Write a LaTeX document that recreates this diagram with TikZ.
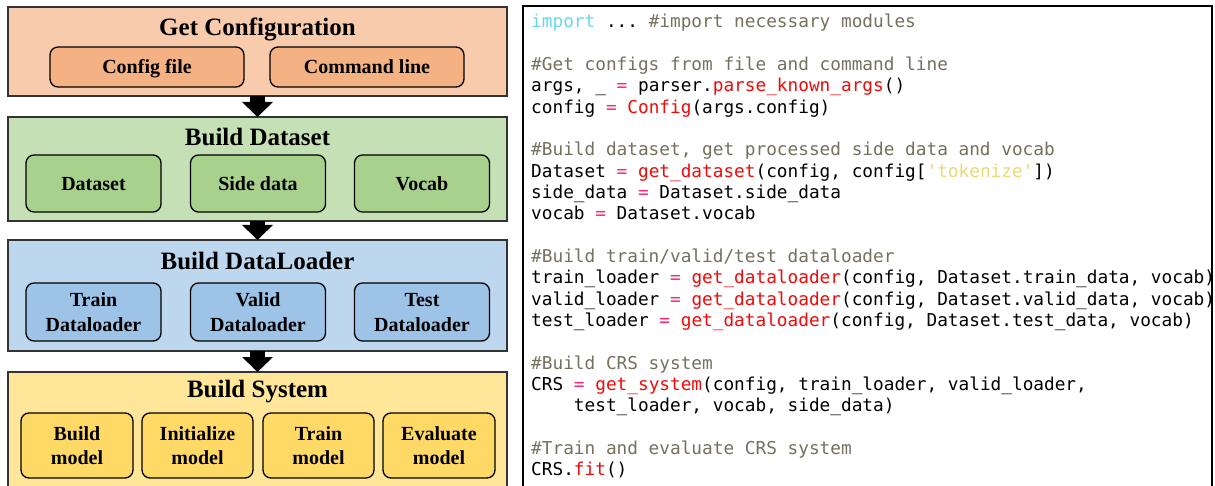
\documentclass[tikz,border=0pt]{standalone}
\usepackage{fontspec}
\setmainfont{Liberation Serif}
\setmonofont{DejaVu Sans Mono}
\usetikzlibrary{arrows.meta}
\definecolor{orOut}{HTML}{F8CBAD}
\definecolor{orIn}{HTML}{F4B183}
\definecolor{grOut}{HTML}{C5E0B4}
\definecolor{grIn}{HTML}{A9D18E}
\definecolor{blOut}{HTML}{BDD7EE}
\definecolor{blIn}{HTML}{9DC3E6}
\definecolor{yeOut}{HTML}{FFE699}
\definecolor{yeIn}{HTML}{FFD966}
\definecolor{kwc}{HTML}{66D9EF}
\definecolor{cmc}{HTML}{75715E}
\definecolor{fnc}{HTML}{F00A0A}
\definecolor{eqc}{HTML}{F92672}
\definecolor{stc}{HTML}{E6DB74}
\newcommand\cKw[1]{\textcolor{kwc}{#1}}
\newcommand\cCm[1]{\textcolor{cmc}{#1}}
\newcommand\cFn[1]{\textcolor{fnc}{#1}}
\newcommand\cEq[1]{\textcolor{eqc}{#1}}
\newcommand\cSt[1]{\textcolor{stc}{#1}}
\newcommand\codeln[2]{\node[codetxt] (c#1) at (531,{28+21.33*#1}) {#2};}
\begin{document}
\begin{tikzpicture}[x=1pt,y=-1pt,
  outerbox/.style={draw=black!80, line width=1.6pt, inner sep=0pt, outer sep=0pt},
  innerbox/.style={draw=black, line width=1.3pt, rounded corners=8pt, inner sep=0pt,
    font=\bfseries\fontsize{20}{24.5}\selectfont, align=center,
    text depth=0pt, text height=13.5pt},
  innertwo/.style={innerbox, text height=38pt},
  titletxt/.style={font=\bfseries\fontsize{25}{30}\selectfont, anchor=base, inner sep=0pt},
  codetxt/.style={anchor=base west, inner sep=0pt, font=\ttfamily\fontsize{17.75}{21.33}\selectfont},
  blockarrow/.style={line width=15pt, black, -{Triangle[width=30pt,length=15pt]}}
]
\useasboundingbox (0,0) rectangle (1215,486);
\clip (0,0) rectangle (1215,486);
\fill[white] (0,0) rectangle (1215,486);

% outer boxes
\node[outerbox, fill=orOut, minimum width=499pt, minimum height=89pt] (conf) at (257.5,51.5) {};
\node[outerbox, fill=grOut, minimum width=499pt, minimum height=104pt] (data) at (257.5,169) {};
\node[outerbox, fill=blOut, minimum width=499pt, minimum height=111pt] (load) at (257.5,295.5) {};
\node[outerbox, fill=yeOut, minimum width=499pt, minimum height=128pt] (syst) at (257.5,436) {};

% titles
\node[titletxt] (tconf) at (257.5,36) {Get Configuration};
\node[titletxt] (tdata) at (257.5,145.5) {Build Dataset};
\node[titletxt] (tload) at (257.5,269.5) {Build DataLoader};
\node[titletxt] (tsyst) at (257.5,397.5) {Build System};

% config items
\node[innerbox, fill=orIn, minimum width=194pt, minimum height=40pt] (cfile) at (147,67) {Config file};
\node[innerbox, fill=orIn, minimum width=194pt, minimum height=40pt] (cmd) at (367,67) {Command line};

% dataset items
\node[innerbox, fill=grIn, minimum width=135pt, minimum height=57pt] (dset) at (93.5,183.5) {Dataset};
\node[innerbox, fill=grIn, minimum width=135pt, minimum height=57pt] (side) at (258,183.5) {Side data};
\node[innerbox, fill=grIn, minimum width=135pt, minimum height=57pt] (voc) at (422,183.5) {Vocab};

% dataloader items
\node[innertwo, fill=blIn, minimum width=135pt, minimum height=58pt] (trl) at (93.5,312) {Train\\Dataloader};
\node[innertwo, fill=blIn, minimum width=135pt, minimum height=58pt] (val) at (258,312) {Valid\\Dataloader};
\node[innertwo, fill=blIn, minimum width=135pt, minimum height=58pt] (tst) at (422,312) {Test\\Dataloader};

% system items
\node[innertwo, fill=yeIn, minimum width=112pt, minimum height=65pt] (bm) at (77,445.5) {Build\\model};
\node[innertwo, fill=yeIn, minimum width=111pt, minimum height=65pt] (im) at (197.5,445.5) {Initialize\\model};
\node[innertwo, fill=yeIn, minimum width=111pt, minimum height=65pt] (tm) at (318.5,445.5) {Train\\model};
\node[innertwo, fill=yeIn, minimum width=112pt, minimum height=65pt] (em) at (439,445.5) {Evaluate\\model};

% arrows
\draw[blockarrow] (conf.south) -- (data.north);
\draw[blockarrow] (data.south) -- (load.north);
\draw[blockarrow] (load.south) -- (syst.north);

% code box
\node[draw=black, line width=1.6pt, inner sep=0pt, minimum width=689pt, minimum height=494pt] (codebox) at (867.5,253) {};

\codeln{0}{\cKw{import} ... \cCm{\#import necessary modules}}
\codeln{2}{\cCm{\#Get configs from file and command line}}
\codeln{3}{args, \_ \cEq{=} parser.\cFn{parse\_known\_args}()}
\codeln{4}{config \cEq{=} \cFn{Config}(args.config)}
\codeln{6}{\cCm{\#Build dataset, get processed side data and vocab}}
\codeln{7}{Dataset \cEq{=} \cFn{get\_dataset}(config, config[\cSt{'tokenize'}])}
\codeln{8}{side\_data \cEq{=} Dataset.side\_data}
\codeln{9}{vocab \cEq{=} Dataset.vocab}
\codeln{11}{\cCm{\#Build train/valid/test dataloader}}
\codeln{12}{train\_loader \cEq{=} \cFn{get\_dataloader}(config, Dataset.train\_data, vocab)}
\codeln{13}{valid\_loader \cEq{=} \cFn{get\_dataloader}(config, Dataset.valid\_data, vocab)}
\codeln{14}{test\_loader \cEq{=} \cFn{get\_dataloader}(config, Dataset.test\_data, vocab)}
\codeln{16}{\cCm{\#Build CRS system}}
\codeln{17}{CRS \cEq{=} \cFn{get\_system}(config, train\_loader, valid\_loader,}
\codeln{18}{\phantom{xxxx}test\_loader, vocab, side\_data)}
\codeln{20}{\cCm{\#Train and evaluate CRS system}}
\codeln{21}{CRS.\cFn{fit}()}
\end{tikzpicture}
\end{document}
